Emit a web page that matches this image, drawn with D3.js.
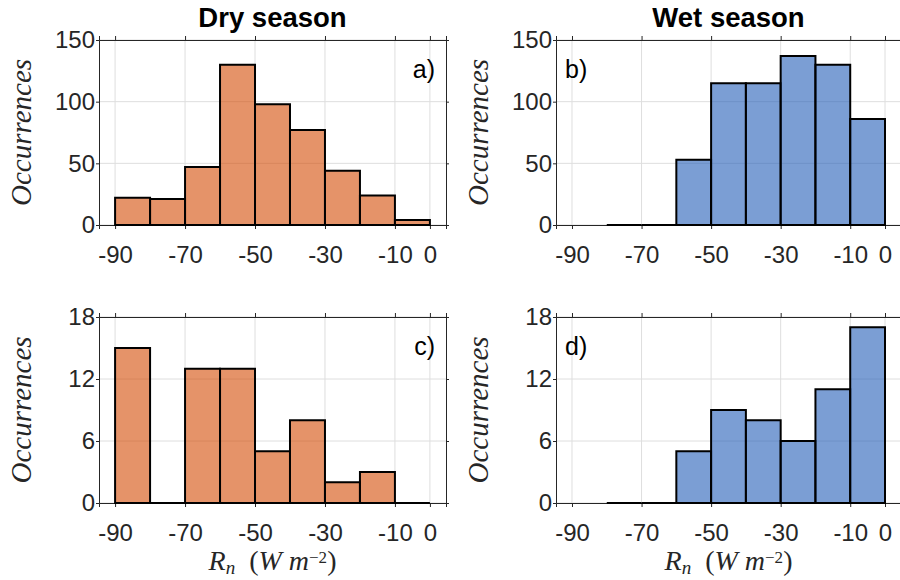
<!DOCTYPE html>
<html>
<head>
<meta charset="utf-8">
<script src="https://cdn.jsdelivr.net/npm/d3@7/dist/d3.min.js"></script>
<style>
  body { margin: 0; background: #fff; }
</style>
</head>
<body>
<script>
// bin edges (W m-2)
const dryEdges = [-90, -80, -70, -60, -50, -40, -30, -20, -10, 0];
const wetEdges = [-80, -70, -60, -50, -40, -30, -20, -10, 0];

// occurrences per bin
const dryTop = [22, 21, 47, 130, 98, 77, 44, 24, 4];
const wetTop = [0, 0, 53, 115, 115, 137, 130, 86];
const dryBottom = [15, 0, 13, 13, 5, 8, 2, 3, 0];
const wetBottom = [0, 0, 5, 9, 8, 6, 11, 17];

const xTicks = [-90, -70, -50, -30, -10, 0];
const yTicksTop = [0, 50, 100, 150];
const yTicksBottom = [0, 6, 12, 18];
const titles = ["Dry season", "Wet season"];
const panelLabels = ["a)", "b)", "c)", "d)"];

const width = 900, height = 580;
const orange = "rgb(212,75,5)", blue = "rgb(35,93,183)";
const axisColor = "#262626";
const sans = "'Liberation Sans', Arial, Helvetica, sans-serif";
const serif = "'Liberation Serif', 'Times New Roman', serif";

const svg = d3.select("body").append("svg")
  .attr("width", width)
  .attr("height", height);

const panels = [
  {counts: dryTop, edges: dryEdges, left: 99, right: 446, top: 40, bottom: 225, yTicks: yTicksTop, fill: orange, label: panelLabels[0], labelRight: true, title: titles[0]},
  {counts: wetTop, edges: wetEdges, left: 556, right: 901, top: 40, bottom: 225, yTicks: yTicksTop, fill: blue, label: panelLabels[1], labelRight: false, title: titles[1]},
  {counts: dryBottom, edges: dryEdges, left: 99, right: 446, top: 317, bottom: 503, yTicks: yTicksBottom, fill: orange, label: panelLabels[2], labelRight: true, xlabel: true},
  {counts: wetBottom, edges: wetEdges, left: 556, right: 901, top: 317, bottom: 503, yTicks: yTicksBottom, fill: blue, label: panelLabels[3], labelRight: false, xlabel: true}
];

panels.forEach(p => drawPanel(p));

function drawPanel(p) {
  const x = d3.scaleLinear().domain([-94.6, 4.6]).range([p.left, p.right]);
  const y = d3.scaleLinear().domain([0, d3.max(p.yTicks)]).range([p.bottom, p.top]);
  const g = svg.append("g");

  // grid
  g.append("g").selectAll("line").data(xTicks).join("line")
    .attr("x1", d => x(d)).attr("x2", d => x(d))
    .attr("y1", p.top).attr("y2", p.bottom)
    .attr("stroke", "#dedede").attr("stroke-width", 1);
  g.append("g").selectAll("line").data(p.yTicks).join("line")
    .attr("x1", p.left).attr("x2", p.right)
    .attr("y1", d => y(d)).attr("y2", d => y(d))
    .attr("stroke", "#dedede").attr("stroke-width", 1);

  // axes
  const xb = g.append("g").attr("transform", `translate(0,${p.bottom})`)
    .call(d3.axisBottom(x).tickValues(xTicks).tickSize(4).tickPadding(17));
  const xt = g.append("g").attr("transform", `translate(0,${p.top})`)
    .call(d3.axisTop(x).tickValues(xTicks).tickSize(4).tickFormat(""));
  const yl = g.append("g").attr("transform", `translate(${p.left},0)`)
    .call(d3.axisLeft(y).tickValues(p.yTicks).tickSize(3).tickPadding(1));
  const yr = g.append("g").attr("transform", `translate(${p.right},0)`)
    .call(d3.axisRight(y).tickValues(p.yTicks).tickSize(3).tickFormat(""));

  [xb, xt, yl, yr].forEach(a => {
    a.select(".domain").attr("stroke", axisColor).attr("stroke-width", 1);
    a.selectAll(".tick line").attr("stroke", axisColor);
    a.selectAll("text").attr("fill", axisColor)
      .style("font-family", sans).style("font-size", "24px");
  });
  xb.selectAll(".tick text").text(d => String(d));

  // bars as paths so empty bins still show their outline
  g.append("g").selectAll("path").data(p.counts).join("path")
    .attr("d", (d, i) => {
      const x0 = x(p.edges[i]), x1 = x(p.edges[i + 1]);
      return `M${x0},${y(0)}V${y(d)}H${x1}V${y(0)}Z`;
    })
    .attr("fill", p.fill)
    .attr("fill-opacity", 0.6)
    .attr("stroke", "#000")
    .attr("stroke-width", 2);

  // y label
  g.append("text")
    .attr("transform", `translate(${p.left - 68},${(p.top + p.bottom) / 2}) rotate(-90)`)
    .attr("text-anchor", "middle")
    .style("font-family", serif)
    .style("font-style", "italic")
    .style("font-size", "29px")
    .attr("fill", axisColor)
    .text("Occurrences");

  // panel letter
  g.append("text")
    .attr("x", p.labelRight ? p.right - 11 : p.left + 9)
    .attr("y", p.top + 38)
    .attr("text-anchor", p.labelRight ? "end" : "start")
    .style("font-family", sans)
    .style("font-size", "25px")
    .attr("fill", "#000")
    .text(p.label);

  if (p.title) {
    g.append("text")
      .attr("x", (p.left + p.right) / 2)
      .attr("y", 27)
      .attr("text-anchor", "middle")
      .style("font-family", sans)
      .style("font-weight", "bold")
      .style("font-size", "27.5px")
      .attr("fill", "#000")
      .text(p.title);
  }

  if (p.xlabel) {
    const t = g.append("text")
      .attr("x", (p.left + p.right) / 2)
      .attr("y", 570)
      .attr("text-anchor", "middle")
      .style("font-family", serif)
      .style("font-size", "28px")
      .attr("fill", axisColor);
    t.append("tspan").style("font-style", "italic").text("R");
    t.append("tspan").style("font-style", "italic").style("font-size", "19px").attr("dy", 4).text("n");
    t.append("tspan").attr("dy", -4).text("\u2002(");
    t.append("tspan").style("font-style", "italic").text("W m");
    t.append("tspan").style("font-size", "17px").attr("dy", -7).text("\u22122");
    t.append("tspan").attr("dy", 7).text(")");
  }
}
</script>
</body>
</html>
